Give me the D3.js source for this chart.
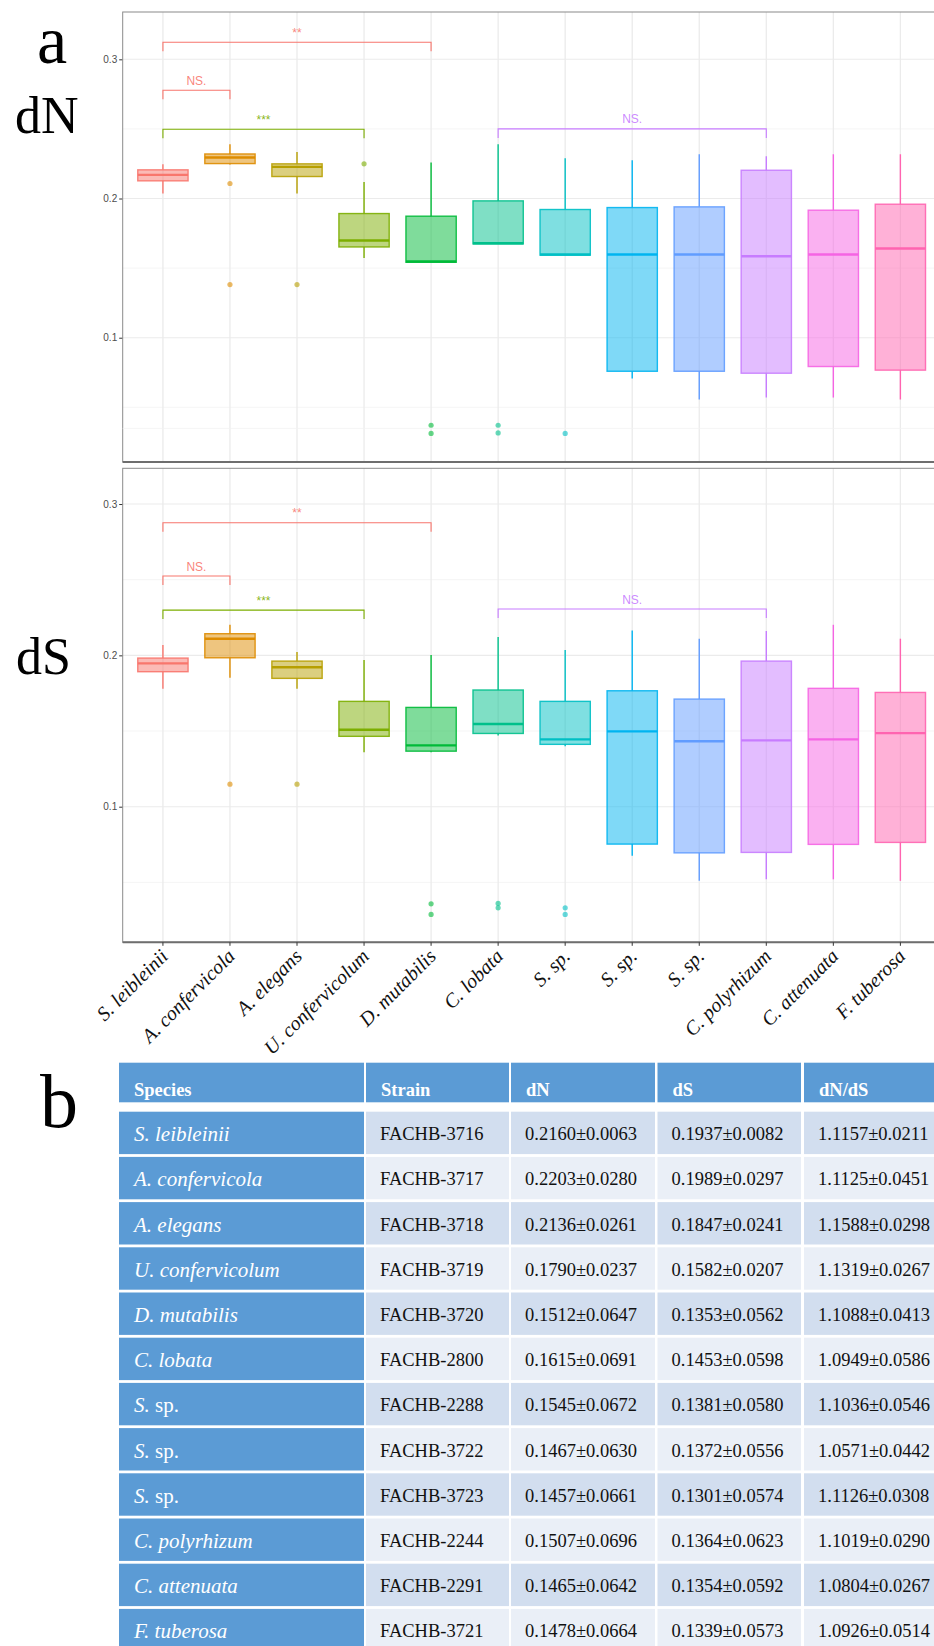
<!DOCTYPE html>
<html>
<head>
<meta charset="utf-8">
<script src="https://cdn.jsdelivr.net/npm/d3@7/dist/d3.min.js"></script>
<style>
  html, body { margin: 0; padding: 0; background: #fff; }
  svg { display: block; }
  .serif { font-family: "Liberation Serif", "Times New Roman", serif; }
  .sans { font-family: "Liberation Sans", Arial, sans-serif; }
</style>
</head>
<body>
<div id="fig"></div>
<script>
// ---- data ----
const species = ["S. leibleinii", "A. confervicola", "A. elegans", "U. confervicolum", "D. mutabilis",
  "C. lobata", "S. sp.", "S. sp.", "S. sp.", "C. polyrhizum", "C. attenuata", "F. tuberosa"];
const palette = ["#F8766D", "#DE8C00", "#B79F00", "#7CAE00", "#00BA38", "#00C08B",
  "#00BFC4", "#00B4F0", "#619CFF", "#C77CFF", "#F564E3", "#FF64B0"];

// [lower whisker, q1, median, q3, upper whisker]
const dNBoxes = [
  [0.2036, 0.2127, 0.2170, 0.2206, 0.2246],
  [0.2245, 0.2251, 0.2295, 0.2320, 0.2390],
  [0.2036, 0.2158, 0.2227, 0.2249, 0.2335],
  [0.1573, 0.1652, 0.1698, 0.1892, 0.2119],
  [0.1542, 0.1542, 0.1547, 0.1873, 0.2259],
  [0.1674, 0.1674, 0.1679, 0.1983, 0.2390],
  [0.1593, 0.1593, 0.1598, 0.1921, 0.2290],
  [0.0707, 0.0759, 0.1598, 0.1935, 0.2275],
  [0.0556, 0.0759, 0.1598, 0.1940, 0.2318],
  [0.0570, 0.0745, 0.1585, 0.2203, 0.2304],
  [0.0570, 0.0793, 0.1598, 0.1916, 0.2318],
  [0.0556, 0.0767, 0.1641, 0.1959, 0.2318]
];
const dNOutliers = [[], [0.2108, 0.1382], [0.1382], [0.2249], [0.0371, 0.0312], [0.0371, 0.0316], [0.0312], [], [], [], [], []];

const dSBoxes = [
  [0.1779, 0.1892, 0.1947, 0.1982, 0.2068],
  [0.1852, 0.1984, 0.2110, 0.2143, 0.2202],
  [0.1779, 0.1848, 0.1921, 0.1962, 0.2022],
  [0.1359, 0.1465, 0.1508, 0.1696, 0.1969],
  [0.1359, 0.1367, 0.1405, 0.1656, 0.2002],
  [0.1471, 0.1484, 0.1546, 0.1771, 0.2121],
  [0.1399, 0.1412, 0.1445, 0.1696, 0.2035],
  [0.0676, 0.0753, 0.1498, 0.1766, 0.2165],
  [0.0510, 0.0695, 0.1432, 0.1711, 0.2110],
  [0.0520, 0.0698, 0.1438, 0.1962, 0.2161],
  [0.0520, 0.0751, 0.1445, 0.1782, 0.2202],
  [0.0510, 0.0764, 0.1486, 0.1755, 0.2110]
];
const dSOutliers = [[], [0.1149], [0.1149], [], [0.0358, 0.0288], [0.0361, 0.0332], [0.0332, 0.0288], [], [], [], [], []];

// significance brackets: [from, to, y, label, colour index]
const dNSig = [[0, 4, 0.3123, "**", 0], [0, 1, 0.2778, "NS.", 0], [0, 3, 0.2498, "***", 3], [5, 9, 0.2500, "NS.", 9]];
const dSSig = [[0, 4, 0.2876, "**", 0], [0, 1, 0.2524, "NS.", 0], [0, 3, 0.2299, "***", 3], [5, 9, 0.2306, "NS.", 9]];

const yTicks = [0.1, 0.2, 0.3];
const yMinor = [0.05, 0.15, 0.25, 0.35];

// table b
const tableHeader = ["Species", "Strain", "dN", "dS", "dN/dS"];
const strains = ["FACHB-3716", "FACHB-3717", "FACHB-3718", "FACHB-3719", "FACHB-3720", "FACHB-2800",
  "FACHB-2288", "FACHB-3722", "FACHB-3723", "FACHB-2244", "FACHB-2291", "FACHB-3721"];
const dNText = ["0.2160±0.0063", "0.2203±0.0280", "0.2136±0.0261", "0.1790±0.0237", "0.1512±0.0647", "0.1615±0.0691",
  "0.1545±0.0672", "0.1467±0.0630", "0.1457±0.0661", "0.1507±0.0696", "0.1465±0.0642", "0.1478±0.0664"];
const dSText = ["0.1937±0.0082", "0.1989±0.0297", "0.1847±0.0241", "0.1582±0.0207", "0.1353±0.0562", "0.1453±0.0598",
  "0.1381±0.0580", "0.1372±0.0556", "0.1301±0.0574", "0.1364±0.0623", "0.1354±0.0592", "0.1339±0.0573"];
const ratioText = ["1.1157±0.0211", "1.1125±0.0451", "1.1588±0.0298", "1.1319±0.0267", "1.1088±0.0413", "1.0949±0.0586",
  "1.1036±0.0546", "1.0571±0.0442", "1.1126±0.0308", "1.1019±0.0290", "1.0804±0.0267", "1.0926±0.0514"];

// ---- drawing ----
const W = 934, H = 1646;
const svg = d3.select("#fig").append("svg").attr("width", W).attr("height", H);

const idx = d3.range(species.length);
const x = d3.scalePoint().domain(idx).range([122.7, 940.6]).padding(0.6);
const boxW = x.step() * 0.75;

function panel(top, bottom, domain, boxes, outliers, sig, showX) {
  const y = d3.scaleLinear().domain(domain).range([bottom, top]);
  const g = svg.append("g");
  const left = 122.7, right = 940.6;

  g.selectAll(".minor").data(yMinor).enter().append("line")
    .attr("x1", left).attr("x2", right)
    .attr("y1", d => y(d)).attr("y2", d => y(d))
    .style("stroke", "#F3F3F3").style("stroke-width", 0.8);
  g.selectAll(".major").data(yTicks).enter().append("line")
    .attr("x1", left).attr("x2", right)
    .attr("y1", d => y(d)).attr("y2", d => y(d))
    .style("stroke", "#EBEBEB").style("stroke-width", 1.1);
  g.selectAll(".vgrid").data(idx).enter().append("line")
    .attr("x1", d => x(d)).attr("x2", d => x(d))
    .attr("y1", top).attr("y2", bottom)
    .style("stroke", "#EBEBEB").style("stroke-width", 1.3);

  // y axis
  const ax = g.append("g").attr("transform", "translate(" + left + ",0)")
    .call(d3.axisLeft(y).tickValues(yTicks).tickSize(3.5).tickPadding(2).tickFormat(d3.format(".1f")));
  ax.select(".domain").remove();
  ax.selectAll("line").style("stroke", "#333");
  ax.selectAll("text").attr("class", "sans").style("font-size", "10px").style("fill", "#4D4D4D");

  // boxes
  const b = g.selectAll(".box").data(boxes).enter().append("g");
  b.append("line")
    .attr("x1", (d, i) => x(i)).attr("x2", (d, i) => x(i))
    .attr("y1", d => y(d[3])).attr("y2", d => y(d[4]))
    .style("stroke", (d, i) => palette[i]).style("stroke-width", 1.4);
  b.append("line")
    .attr("x1", (d, i) => x(i)).attr("x2", (d, i) => x(i))
    .attr("y1", d => y(d[0])).attr("y2", d => y(d[1]))
    .style("stroke", (d, i) => palette[i]).style("stroke-width", 1.4);
  b.append("rect")
    .attr("x", (d, i) => x(i) - boxW / 2).attr("width", boxW)
    .attr("y", d => y(d[3])).attr("height", d => y(d[1]) - y(d[3]))
    .style("fill", (d, i) => palette[i]).style("fill-opacity", 0.5)
    .style("stroke", (d, i) => palette[i]).style("stroke-width", 1.4).style("stroke-opacity", 0.9);
  b.append("line")
    .attr("x1", (d, i) => x(i) - boxW / 2).attr("x2", (d, i) => x(i) + boxW / 2)
    .attr("y1", d => y(d[2])).attr("y2", d => y(d[2]))
    .style("stroke", (d, i) => palette[i]).style("stroke-width", 2.4);

  // outliers
  const pts = [];
  outliers.forEach((arr, i) => arr.forEach(v => pts.push({ i: i, v: v })));
  g.selectAll(".pt").data(pts).enter().append("circle")
    .attr("cx", d => x(d.i)).attr("cy", d => y(d.v)).attr("r", 2.6)
    .style("fill", d => palette[d.i]).style("fill-opacity", 0.6);

  // brackets
  const tip = 9;
  sig.forEach(s => {
    const c = palette[s[4]];
    const yy = y(s[2]);
    g.append("path")
      .attr("d", "M" + x(s[0]) + "," + (yy + tip) + "V" + yy + "H" + x(s[1]) + "V" + (yy + tip))
      .style("fill", "none").style("stroke", c).style("stroke-width", 1.1);
    g.append("text").attr("class", "sans")
      .attr("x", (x(s[0]) + x(s[1])) / 2).attr("y", yy - 5.5)
      .attr("text-anchor", "middle")
      .style("font-size", "12px").style("fill", c).style("fill-opacity", 0.9)
      .text(s[3]);
  });

  // border
  g.append("rect").attr("x", left).attr("y", top).attr("width", right - left).attr("height", bottom - top)
    .style("fill", "none").style("stroke", "#8A8A8A").style("stroke-width", 1);
  g.append("line").attr("x1", left).attr("x2", right).attr("y1", bottom).attr("y2", bottom)
    .style("stroke", "#6E6E6E").style("stroke-width", 2);

  if (showX) {
    g.selectAll(".xt").data(idx).enter().append("line")
      .attr("x1", d => x(d)).attr("x2", d => x(d))
      .attr("y1", bottom).attr("y2", bottom + 3.5)
      .style("stroke", "#333");
    g.selectAll(".xl").data(idx).enter().append("text")
      .attr("class", "serif")
      .attr("transform", d => "translate(" + (x(d) - 4) + "," + (bottom + 5) + ") rotate(-45)")
      .attr("text-anchor", "end").attr("dy", "0.72em")
      .style("font-size", "20px").style("font-style", "italic").style("fill", "#111")
      .text(d => species[d]);
  }
  return y;
}

panel(12, 462, [0.0107, 0.334], dNBoxes, dNOutliers, dNSig, false);
panel(468.3, 942.3, [0.0104, 0.3236], dSBoxes, dSOutliers, dSSig, true);

// big panel letters
svg.append("text").attr("class", "serif").attr("x", 37).attr("y", 63).style("font-size", "68px").text("a");
svg.append("text").attr("class", "serif").attr("x", 15).attr("y", 133).style("font-size", "52px").text("dN");
svg.append("text").attr("class", "serif").attr("x", 16).attr("y", 674).style("font-size", "52px").text("dS");
svg.append("text").attr("class", "serif").attr("x", 40).attr("y", 1127).style("font-size", "76px").text("b");

// ---- table ----
const colX = [119, 366, 511, 657.5, 804];
const colW = [245, 143, 144, 143.5, 145];
const headTop = 1062.7, headH = 39.6;
const rowTop = 1111.7, rowStep = 45.2, rowH = 42.4;
const tbl = svg.append("g");

tbl.selectAll(".hcell").data(tableHeader).enter().append("rect")
  .attr("x", (d, j) => colX[j]).attr("width", (d, j) => colW[j])
  .attr("y", headTop).attr("height", headH)
  .style("fill", "#5B9BD5");
tbl.selectAll(".htext").data(tableHeader).enter().append("text")
  .attr("class", "serif")
  .attr("x", (d, j) => colX[j] + 15).attr("y", headTop + headH - 6)
  .style("font-size", "18.5px").style("font-weight", "bold").style("fill", "#fff")
  .text(d => d);

const rows = idx.map(i => [species[i], strains[i], dNText[i], dSText[i], ratioText[i]]);
const tr = tbl.selectAll(".row").data(rows).enter().append("g")
  .attr("transform", (d, i) => "translate(0," + (rowTop + i * rowStep) + ")");

tr.each(function (r, i) {
  const row = d3.select(this);
  r.forEach((val, j) => {
    row.append("rect")
      .attr("x", colX[j]).attr("width", colW[j]).attr("y", 0).attr("height", rowH)
      .style("fill", j === 0 ? "#5B9BD5" : (i % 2 === 0 ? "#D2DEEF" : "#EAEFF7"));
    if (j === 0) {
      const t = row.append("text").attr("class", "serif")
        .attr("x", colX[j] + 15).attr("y", 29.5)
        .style("font-size", "21px").style("fill", "#fff");
      if (val === "S. sp.") {
        t.append("tspan").style("font-style", "italic").text("S.");
        t.append("tspan").text(" sp.");
      } else {
        t.style("font-style", "italic").text(val);
      }
    } else {
      row.append("text").attr("class", "serif")
        .attr("x", colX[j] + 14).attr("y", 28.5)
        .style("font-size", "18.5px").style("fill", "#111")
        .text(val);
    }
  });
});
</script>
</body>
</html>
